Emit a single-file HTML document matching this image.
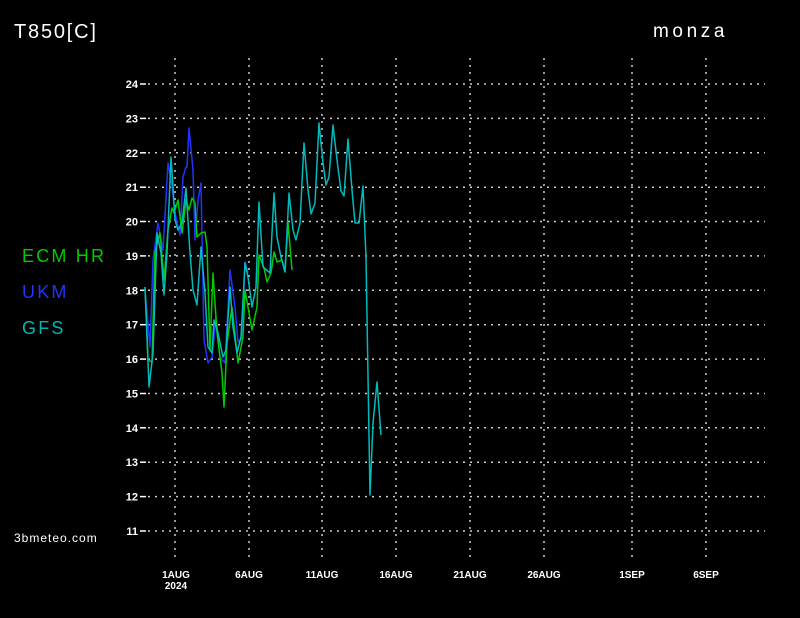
<!DOCTYPE html>
<html><head><meta charset="utf-8"><style>
html,body{margin:0;padding:0;background:#000;}
svg{display:block;}
text{font-family:"Liberation Sans",sans-serif;}
</style></head><body>
<svg width="800" height="618" viewBox="0 0 800 618" xmlns="http://www.w3.org/2000/svg">
<rect width="800" height="618" fill="#000"/>
<text x="14" y="38" fill="#fff" font-size="20" letter-spacing="1.8">T850[C]</text>
<text x="653" y="37" fill="#fff" font-size="19" letter-spacing="3.6">monza</text>
<text x="22" y="262" fill="#00cc00" font-size="18" letter-spacing="2.2">ECM  HR</text>
<text x="22" y="298" fill="#2233ff" font-size="18" letter-spacing="2.2">UKM</text>
<text x="22" y="334" fill="#00b4b4" font-size="18" letter-spacing="2.2">GFS</text>
<text x="14" y="542" fill="#fff" font-size="12" letter-spacing="1">3bmeteo.com</text>
<g stroke="#ccc" stroke-width="1.5" stroke-dasharray="2,5">
<line x1="148" y1="84" x2="765" y2="84"/><line x1="148" y1="118.4" x2="765" y2="118.4"/>
<line x1="148" y1="152.8" x2="765" y2="152.8"/><line x1="148" y1="187.2" x2="765" y2="187.2"/>
<line x1="148" y1="221.5" x2="765" y2="221.5"/><line x1="148" y1="255.9" x2="765" y2="255.9"/>
<line x1="148" y1="290.3" x2="765" y2="290.3"/><line x1="148" y1="324.7" x2="765" y2="324.7"/>
<line x1="148" y1="359.1" x2="765" y2="359.1"/><line x1="148" y1="393.5" x2="765" y2="393.5"/>
<line x1="148" y1="427.8" x2="765" y2="427.8"/><line x1="148" y1="462.2" x2="765" y2="462.2"/>
<line x1="148" y1="496.6" x2="765" y2="496.6"/><line x1="148" y1="531" x2="765" y2="531"/>
</g>
<g stroke="#ccc" stroke-width="1.5" stroke-dasharray="2,5">
<line x1="175" y1="58" x2="175" y2="560"/><line x1="249" y1="58" x2="249" y2="560"/>
<line x1="322" y1="58" x2="322" y2="560"/><line x1="396" y1="58" x2="396" y2="560"/>
<line x1="470" y1="58" x2="470" y2="560"/><line x1="544" y1="58" x2="544" y2="560"/>
<line x1="632" y1="58" x2="632" y2="560"/><line x1="706" y1="58" x2="706" y2="560"/>
</g>
<g stroke="#fff" stroke-width="1.5">
<line x1="140" y1="84" x2="146" y2="84"/><line x1="140" y1="118.4" x2="146" y2="118.4"/>
<line x1="140" y1="152.8" x2="146" y2="152.8"/><line x1="140" y1="187.2" x2="146" y2="187.2"/>
<line x1="140" y1="221.5" x2="146" y2="221.5"/><line x1="140" y1="255.9" x2="146" y2="255.9"/>
<line x1="140" y1="290.3" x2="146" y2="290.3"/><line x1="140" y1="324.7" x2="146" y2="324.7"/>
<line x1="140" y1="359.1" x2="146" y2="359.1"/><line x1="140" y1="393.5" x2="146" y2="393.5"/>
<line x1="140" y1="427.8" x2="146" y2="427.8"/><line x1="140" y1="462.2" x2="146" y2="462.2"/>
<line x1="140" y1="496.6" x2="146" y2="496.6"/><line x1="140" y1="531" x2="146" y2="531"/>
</g>
<g fill="#fff" font-size="11" font-weight="bold" text-anchor="end">
<text x="138" y="88">24</text><text x="138" y="122.4">23</text><text x="138" y="156.8">22</text>
<text x="138" y="191.2">21</text><text x="138" y="225.5">20</text><text x="138" y="259.9">19</text>
<text x="138" y="294.3">18</text><text x="138" y="328.7">17</text><text x="138" y="363.1">16</text>
<text x="138" y="397.5">15</text><text x="138" y="431.8">14</text><text x="138" y="466.2">13</text>
<text x="138" y="500.6">12</text><text x="138" y="535">11</text>
</g>
<g fill="#fff" font-size="10" font-weight="bold" text-anchor="middle">
<text x="176" y="578">1AUG</text><text x="176" y="589">2024</text>
<text x="249" y="578">6AUG</text><text x="322" y="578">11AUG</text><text x="396" y="578">16AUG</text>
<text x="470" y="578">21AUG</text><text x="544" y="578">26AUG</text><text x="632" y="578">1SEP</text><text x="706" y="578">6SEP</text>
</g>
<g fill="none" stroke-width="1.5" stroke-linejoin="round">
<polyline stroke="#2233ff" points="145,290 150,347 153,260 158,223 163,250 168,163 172,187 175,213 180,235 183,177 186,167 187,167 189,128 193,170 195,240 198,200 201,183 204,340 208,363 212,357 216,317 220,357 225,363 230,270 235,307 238,342 242,338 245,262 248,273"/>
<polyline stroke="#00cc00" points="145,287 148,360 152,362 155,252 160,233 164,280 168,230 172,208 174,213 178,200 182,233 186,200 189,210 192,198 195,203 197,237 201,233 205,232 207,247 210,350 213,273 217,333 222,373 224,407 227,343 232,307 238,363 243,337 245,290 248,307 252,330 257,307 259,255 264,268 267,282 271,273 274,252 277,262 282,260 285,272 288,223 292,270"/>
<polyline stroke="#00bbbb" points="145,287 149,387 153,353 157,233 161,253 164,295 167,253 171,157 173,187 175,220 178,230 182,223 186,188 190,253 193,290 197,305 201,247 205,293 208,347 212,353 214,320 218,333 223,357 226,350 230,287 233,327 237,353 241,337 245,263 248,277 252,307 256,287 259,202 263,267 270,273 274,193 277,237 281,257 285,272 289,193 293,230 296,240 300,223 304,143 308,190 311,214 315,203 319,123 323,163 326,185 329,177 333,125 337,160 341,191 344,196 348,139 352,190 355,223 359,223 363,186 366,257 370,495 373,423 377,382 381,435"/>
</g>
</svg>
</body></html>
